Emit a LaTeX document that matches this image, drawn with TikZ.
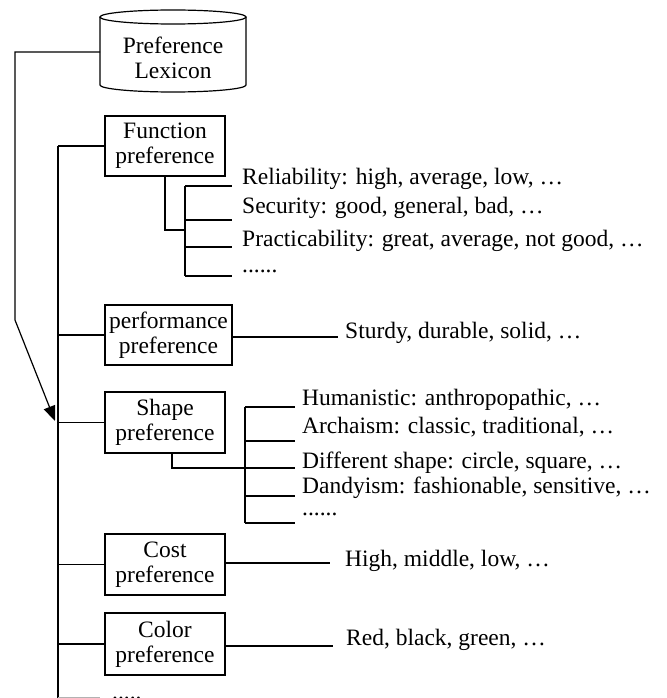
\documentclass[tikz,border=0pt]{standalone}
\usepackage{fontspec}
\setmainfont{Liberation Serif}
\usetikzlibrary{arrows.meta}
\tikzset{
  line/.style={line width=1.2pt},
  box/.style={draw, line width=1.2pt, rectangle, minimum width=120pt, minimum height=61pt, inner sep=0pt, align=center, font=\fontsize{23.5}{25}\selectfont},
  lbl/.style={inner sep=0pt, font=\fontsize{23.5}{25}\selectfont},
}
\begin{document}
\begin{tikzpicture}[x=1pt,y=-1pt]
\useasboundingbox (0,0) rectangle (666,698);
% cylinder
\draw[line] (100,17) -- (100,85) arc[start angle=180, end angle=360, x radius=73pt, y radius=7pt] -- (246,17);
\draw[line] (173,17) ellipse[x radius=73pt, y radius=7pt];
\node[lbl, align=center] (lex) at (173,58) {Preference\\Lexicon};
\coordinate (lexw) at (100,52);
\coordinate (k1) at (15,52);
\coordinate (k2) at (15,320);
\coordinate (tip) at (55,421);
\draw[line, -{Triangle[length=15pt,width=12pt]}] (lexw) -- (k1) -- (k2) -- (tip);

% boxes
\node[box, minimum height=60pt] (func) at (165,146) {Function\\preference};
\node[box, minimum width=127pt, minimum height=60pt] (perf) at (168.5,335) {performance\\preference};
\node[box] (shape) at (165,422.5) {Shape\\preference};
\node[box] (cost) at (165,564.5) {Cost\\preference};
\node[box, minimum height=62pt] (color) at (165,644) {Color\\preference};

% trunk
\coordinate (ttop) at (58,146);
\coordinate (tbot) at (58,705);
\draw[line] (ttop) -- (tbot);
\draw[line] (func.west) -- (func.west -| ttop);
\draw[line] (perf.west) -- (perf.west -| ttop);
\draw[line] (shape.west) -- (shape.west -| ttop);
\draw[line] (cost.west) -- (cost.west -| ttop);
\draw[line] (color.west) -- (color.west -| ttop);
\coordinate (b7) at (100,698);
\draw[line, gray!60] (b7 -| ttop) -- (b7);
\node[lbl, anchor=base west] (more) at (112,699.5) {.....};

% function sub-tree
\coordinate (fj) at (185,230);
\coordinate (fv1) at (185,186);
\coordinate (fv4) at (185,276);
\draw[line] (func.south) |- (fj);
\draw[line] (fv1) -- (fv4);
\coordinate (fr1) at (232,186);
\coordinate (fr2) at (232,220);
\coordinate (fr3) at (232,247);
\coordinate (fr4) at (232,276);
\foreach \r in {fr1,fr2,fr3,fr4} {\draw[line] (\r -| fv1) -- (\r);}
\node[lbl, anchor=mid west] (rel) at (242,182.5) {Reliability: high, average, low, …};
\node[lbl, anchor=mid west] (sec) at (242,211) {Security: good, general, bad, …};
\node[lbl, anchor=mid west] (pra) at (242,244) {Practicability: great, average, not good, …};
\node[lbl, anchor=mid west] (fdots) at (242,270) {......};

% performance
\coordinate (pe) at (338,337);
\draw[line] (perf.east |- pe) -- (pe);
\node[lbl, anchor=mid west] (stu) at (345,336) {Sturdy, durable, solid, …};

% shape sub-tree
\coordinate (sj) at (245,468);
\coordinate (sv1) at (245,407);
\coordinate (sv5) at (245,523);
\draw[line] ([xshift=7pt]shape.south) |- (sj);
\draw[line] (sv1) -- (sv5);
\coordinate (sr1) at (295,407);
\coordinate (sr2) at (295,441);
\coordinate (sr3) at (295,468);
\coordinate (sr4) at (295,496);
\coordinate (sr5) at (295,523);
\foreach \r in {sr1,sr2,sr3,sr4,sr5} {\draw[line] (\r -| sv1) -- (\r);}
\node[lbl, anchor=mid west] (hum) at (302,403) {Humanistic: anthropopathic, …};
\node[lbl, anchor=mid west] (arc) at (302,431) {Archaism: classic, traditional, …};
\node[lbl, anchor=mid west] (dif) at (302,466) {Different shape: circle, square, …};
\node[lbl, anchor=mid west] (dan) at (302,491) {Dandyism: fashionable, sensitive, …};
\node[lbl, anchor=mid west] (sdots) at (302,513) {......};

% cost
\coordinate (ce) at (330,563);
\draw[line] (cost.east |- ce) -- (ce);
\node[lbl, anchor=mid west] (hig) at (345,564) {High, middle, low, …};

% color
\coordinate (coe) at (333,646);
\draw[line] (color.east |- coe) -- (coe);
\node[lbl, anchor=mid west] (red) at (346,643) {Red, black, green, …};
\end{tikzpicture}
\end{document}
